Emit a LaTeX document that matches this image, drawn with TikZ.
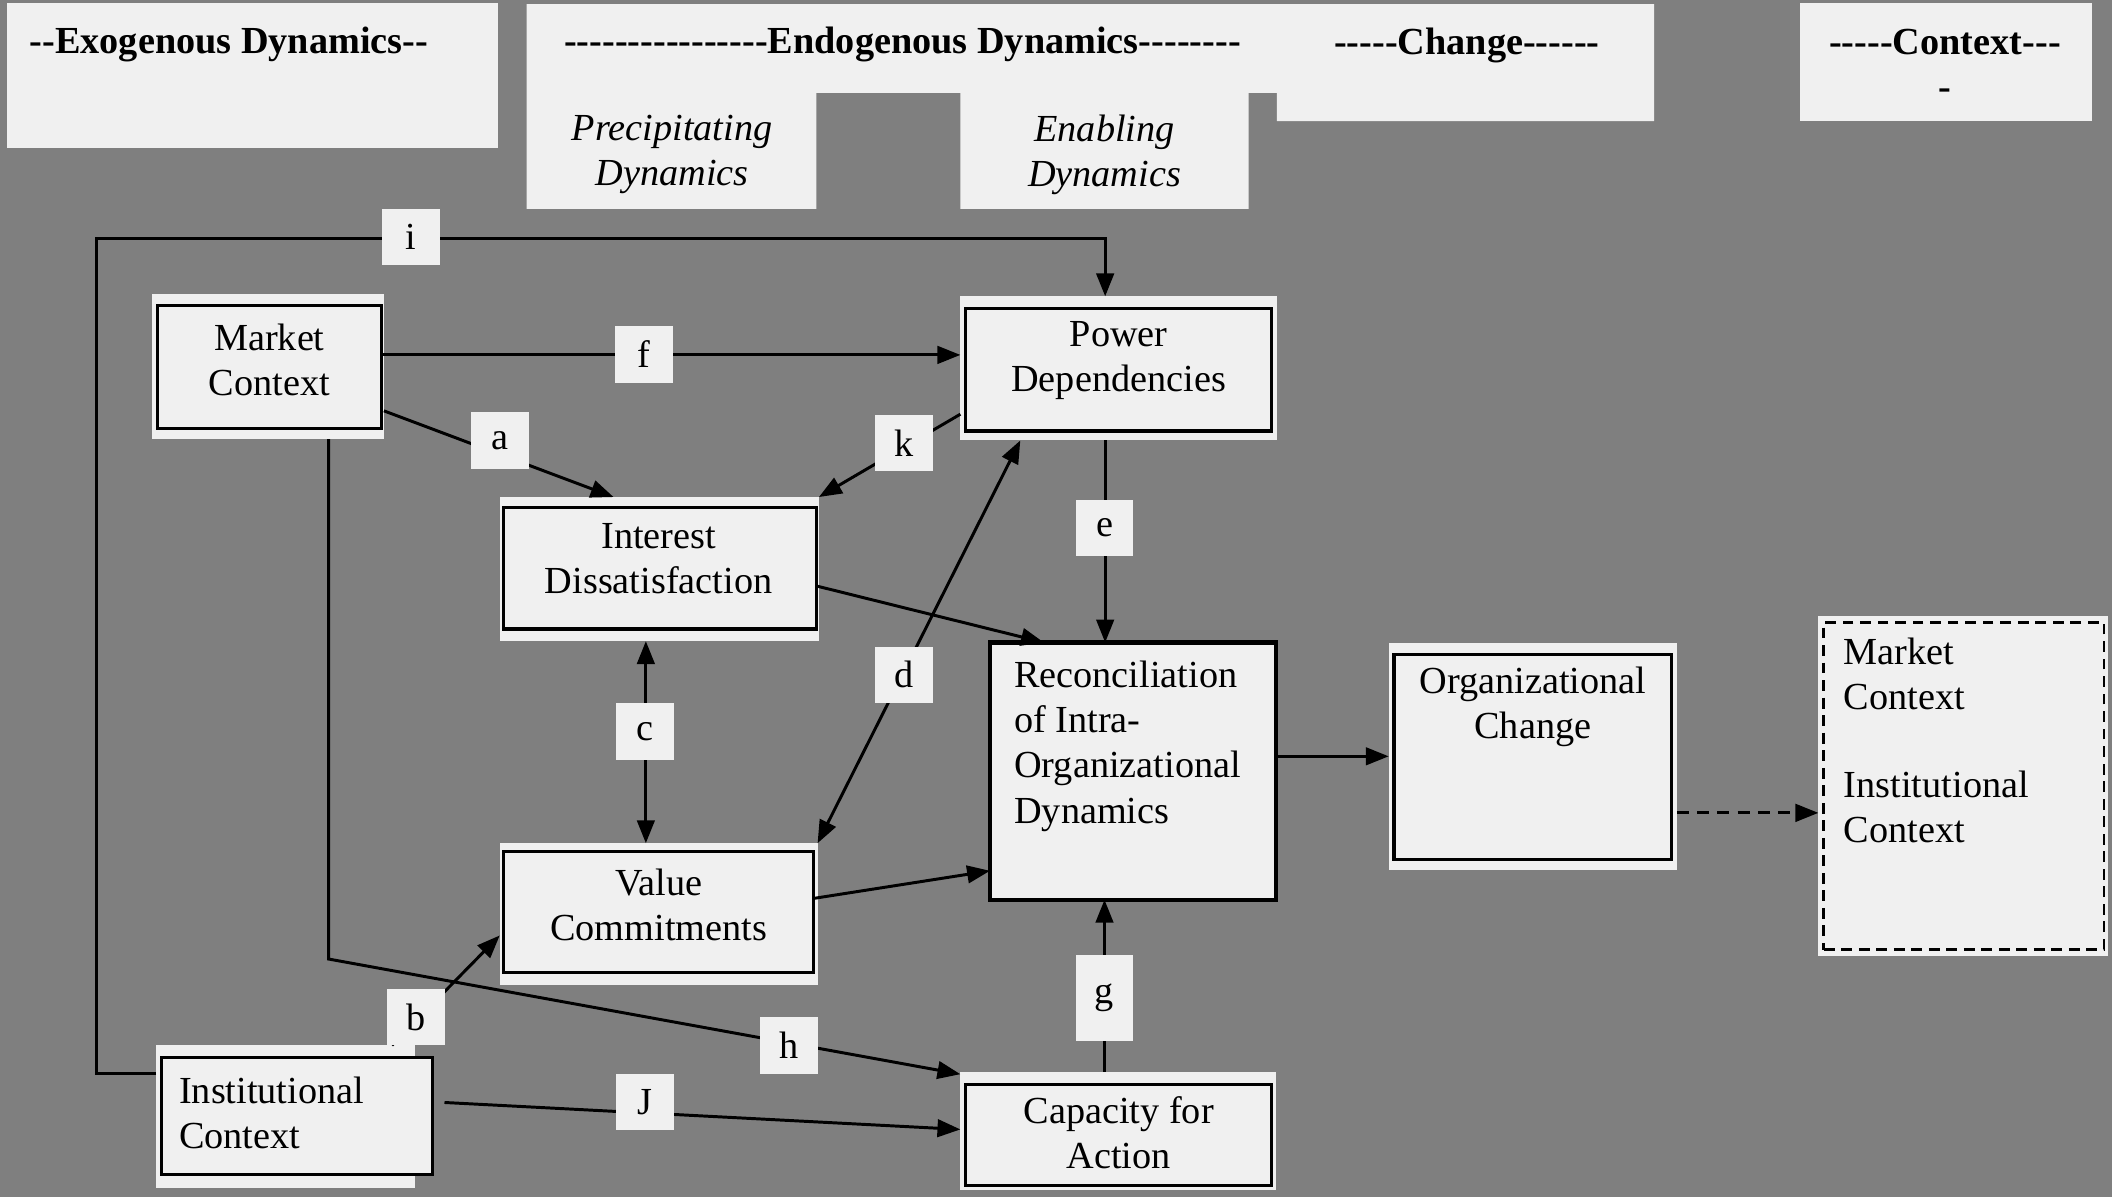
\documentclass[tikz,border=0pt]{standalone}
\usepackage{fontspec}
\setmainfont{Liberation Serif}
\usetikzlibrary{arrows.meta,calc}
\definecolor{bg}{RGB}{127,127,127}
\definecolor{paper}{RGB}{240,240,240}
\newcommand\figfont{\fontsize{28.4}{33.5}\selectfont}
% a run of separate hyphens (kept apart so they never join into dashes)
\newcommand\hyrun[1]{\foreach\k in {1,...,#1}{\mbox{-}}}
\begin{document}
\begin{tikzpicture}[x=1pt,y=-1pt,
  panel/.style={fill=paper, draw=none, inner sep=0pt, outer sep=0pt},
  frame/.style={draw=black, line width=2.5pt, fill=paper, inner sep=0pt, outer sep=0pt},
  txt/.style={inner sep=0pt, outer sep=0pt, font=\figfont},
  lbl/.style={fill=paper, inner sep=0pt, minimum width=43pt, minimum height=42pt, font=\figfont},
  link/.style={draw=black, line width=2.2pt, -{Triangle[length=17pt,width=13pt]}},
  both/.style={draw=black, line width=2.2pt, {Triangle[length=17pt,width=13pt]}-{Triangle[length=17pt,width=13pt]}},
  head/.style={txt, font=\figfont\bfseries},
  sub/.style={txt, font=\figfont\itshape, align=center},
]
\useasboundingbox (0,0) rectangle (1568,889);
\fill[bg] (0,0) rectangle (1568,889);

% column headings
\fill[paper] (5,2) rectangle (370,110);
\fill[paper] (391,3) -- (1228,3) -- (1228,90) -- (948,90) -- (948,69) -- (927,69)
  -- (927,155) -- (713,155) -- (713,69) -- (606,69) -- (606,155) -- (391,155) -- cycle;
\fill[paper] (1336,2) rectangle (1553,90);
\node[head] (hexo) at (170,33) {\hyrun{2}Exogenous Dynamics\hyrun{2}};
\node[head] (hendo) at (670,33) {\hyrun{16}Endogenous Dynamics\hyrun{8}};
\node[head] (hchg) at (1089,34) {\hyrun{5}Change\hyrun{6}};
\node[head, align=center] (hctx) at (1444,48) {\hyrun{5}Context\hyrun{3}\\-};
\node[sub] (hpre) at (499,115) {Precipitating\\Dynamics};
\node[sub] (hena) at (820,115) {Enabling\\Dynamics};

% boxes: light backing panel plus framed box
\node[panel, minimum width=172pt, minimum height=108pt] (mcP) at (199,272) {};
\node[frame, minimum width=166pt, minimum height=91pt] (mc) at (200,272.5) {};
\node[txt, align=center] (mc-t) at (200,267) {Market\\Context};

\node[panel, minimum width=235pt, minimum height=107pt] (pdP) at (830.5,273.5) {};
\node[frame, minimum width=227pt, minimum height=91pt] (pd) at (830.5,274.5) {};
\node[txt, align=center] (pd-t) at (830.5,268) {Power\\Dependencies};

\node[panel, minimum width=237pt, minimum height=107pt] (idP) at (489.5,422.5) {};
\node[frame, minimum width=232pt, minimum height=90pt] (id) at (490,422) {};
\node[txt, align=center] (id-t) at (489,415) {Interest\\Dissatisfaction};

\node[panel, minimum width=236pt, minimum height=105pt] (vcP) at (489,678.5) {};
\node[frame, minimum width=230pt, minimum height=90pt] (vc) at (489,677) {};
\node[txt, align=center] (vc-t) at (489,672) {Value\\Commitments};

\node[frame, line width=3pt, minimum width=212pt, minimum height=191pt] (rec) at (841,572.5) {};
\node[txt, align=left, anchor=west] (rec-t) at (753,554) {Reconciliation\\of Intra-\\Organizational\\Dynamics};

\node[panel, minimum width=214pt, minimum height=169pt] (ocP) at (1138,561.5) {};
\node[frame, minimum width=206pt, minimum height=152pt] (oc) at (1138,562) {};
\node[txt, align=center] (oc-t) at (1138,525) {Organizational\\Change};

\node[panel, minimum width=234pt, minimum height=88pt] (capP) at (830,839.5) {};
\node[frame, minimum width=227pt, minimum height=75pt] (cap) at (830.5,842.5) {};
\node[txt, align=center] (cap-t) at (830.5,841) {Capacity for\\Action};

\node[panel, minimum width=192pt, minimum height=106pt] (icP) at (212,829) {};
\node[frame, minimum width=201pt, minimum height=87pt] (ic) at (220.5,828.5) {};
\node[txt, align=left, anchor=west] (ic-t) at (133,826.5) {Institutional\\Context};

\node[panel, minimum width=215pt, minimum height=253pt] (ctxP) at (1457.5,583.5) {};
\node[frame, line width=2pt, dash pattern=on 8pt off 5pt, minimum width=208pt, minimum height=243pt] (ctx) at (1458,583.5) {};
\node[txt, align=left, anchor=west] (ctx-t) at (1369,549.5) {Market\\Context\\[32pt]Institutional\\Context};

% connectors
\coordinate (ibend) at (72,177);
\draw[link] ([yshift=32pt]icP.west) -| (ibend) -| ([xshift=-10pt]pdP.north);
\draw[link] ([yshift=9pt]mc.east) -- ([yshift=9pt]mc.east -| pdP.west);
\draw[link] ([yshift=-33pt]mcP.east) -- ([xshift=-34pt]idP.north);
\draw[link] ([yshift=-34pt]pdP.west) -- (idP.north east);
\draw[link] ([xshift=-10pt]pdP.south) -- ([xshift=-10pt]pdP.south |- rec.north);
\draw[link] ([yshift=-13pt]id.east) -- ([xshift=-66pt]rec.north);
\draw[both] ([xshift=-10pt]idP.south) -- ([xshift=-10pt]idP.south |- vcP.north);
\draw[both] (vcP.north east) -- ([xshift=-73pt]pdP.south);
\draw[link] ([yshift=10pt]vc.east) -- ([yshift=-74pt]rec.west);
\draw[link] (rec.east |- ocP.west) -- (ocP.west);
\draw[link, dash pattern=on 9pt off 6pt] ([yshift=-42pt]ocP.east) -- ([yshift=-42pt]ocP.east -| ctxP.west);
\draw[link] ([xshift=-10pt]capP.north) -- ([xshift=-10pt]capP.north |- rec.south);
\coordinate (hbend) at (244,712);
\draw[link] ([xshift=45pt]mcP.south) -- (hbend) -- ([yshift=42pt]capP.west);
\draw[link] ([xshift=79pt]icP.north) -- ([yshift=-16pt]vcP.west);
\draw[link] ([xshift=9pt,yshift=10pt]ic.east) -- ([yshift=1pt]capP.west);

% connector labels
\node[lbl] (li) at (305,176) {i};
\node[lbl] (lf) at (478,263) {f};
\node[lbl] (la) at (371,327) {a};
\node[lbl] (lk) at (671,329) {k};
\node[lbl] (le) at (820,392) {e};
\node[lbl] (lc) at (479,543) {c};
\node[lbl] (ld) at (671,501) {d};
\node[lbl] (lb) at (309,755) {b};
\node[lbl] (lh) at (586,776) {h};
\node[lbl] (lj) at (479,818) {J};
\node[lbl, minimum height=64pt] (lg) at (820,741) {g};
\end{tikzpicture}
\end{document}
